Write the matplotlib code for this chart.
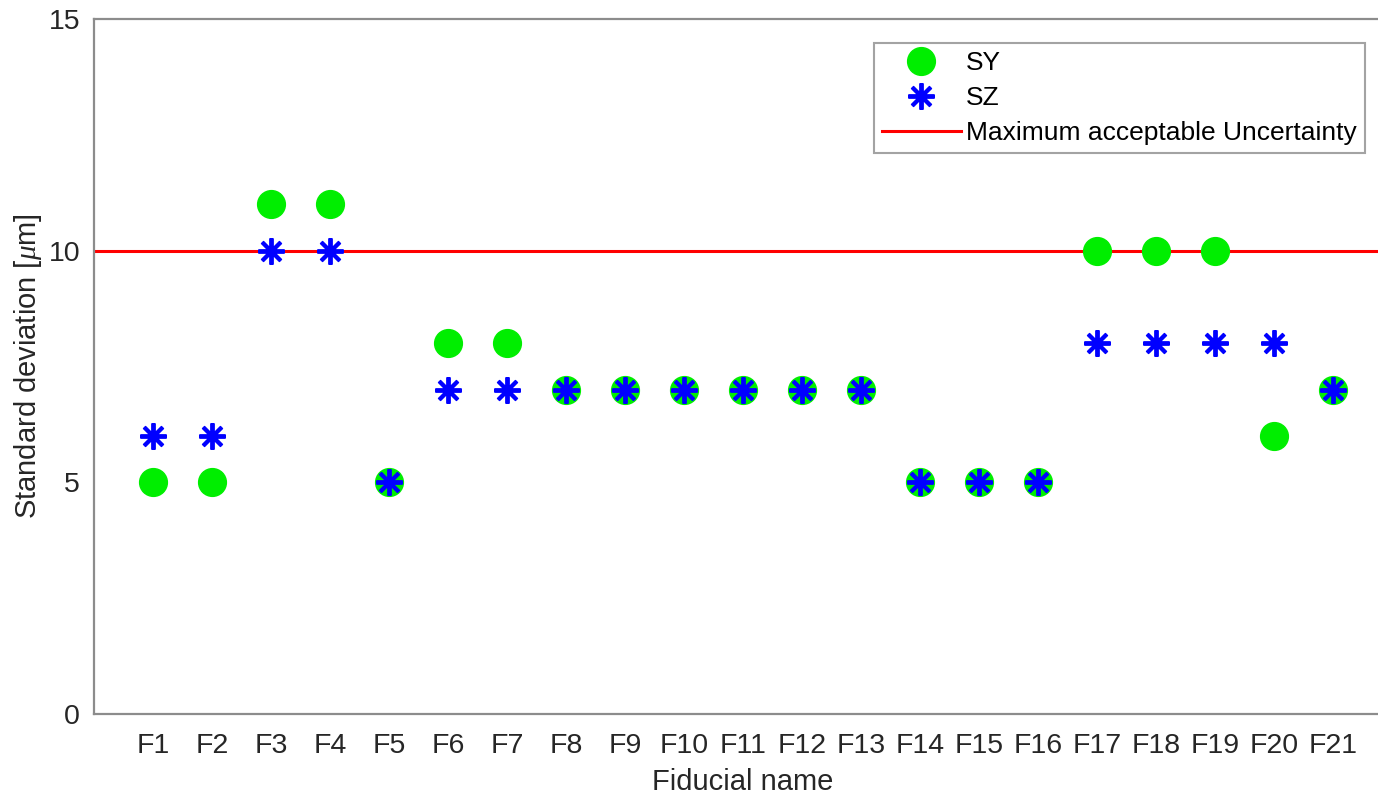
import matplotlib
matplotlib.use("Agg")
import matplotlib.pyplot as plt
from matplotlib.lines import Line2D

plt.rcParams['font.family'] = ['Liberation Sans', 'DejaVu Sans']
plt.rcParams['mathtext.fontset'] = 'custom'
plt.rcParams['mathtext.it'] = 'Liberation Serif:italic'

fiducials = ["F%d" % i for i in range(1, 22)]
sy = [5, 5, 11, 11, 5, 8, 8, 7, 7, 7, 7, 7, 7, 5, 5, 5, 10, 10, 10, 6, 7]
sz = [6, 6, 10, 10, 5, 7, 7, 7, 7, 7, 7, 7, 7, 5, 5, 5, 8, 8, 8, 8, 7]
max_uncertainty = 10
yticks = [0, 5, 10, 15]

W, H = 1378, 795
fig = plt.figure(figsize=(W / 100, H / 100), dpi=100)
left, right, top, bottom = 94, 1392, 19, 714
ax = fig.add_axes([left / W, 1 - bottom / H, (right - left) / W, (bottom - top) / H])

x = list(range(1, len(fiducials) + 1))
ax.plot(x, sy, linestyle='none', marker='o', markersize=20, color='#00ee00',
        markeredgecolor='#00ee00', label='SY', zorder=3)
ax.plot(x, sz, linestyle='none', marker=(8, 2, 0), markersize=19, color='#0000ff',
        markeredgecolor='#0000ff', markeredgewidth=2.8, label='SZ', zorder=4)
ax.axhline(max_uncertainty, color='#ff0000', linewidth=2.2, zorder=2,
           label='Maximum acceptable Uncertainty')

ax.set_xlim(0, len(fiducials) + 1)
ax.set_ylim(0, 15)
ax.set_xticks(x)
ax.set_xticklabels(fiducials)
ax.set_yticks(yticks)
ax.tick_params(length=0, labelsize=20.5, colors='#262626')
ax.tick_params(axis='y', pad=10)
ax.tick_params(axis='x', pad=14)
ax.spines['right'].set_visible(False)
for s in ['left', 'top', 'bottom']:
    ax.spines[s].set_color('#8c8c8c')
    ax.spines[s].set_linewidth(1.6)

ax.set_xlabel('Fiducial name', fontsize=21, color='#262626', labelpad=6)
ax.set_ylabel(r'Standard deviation [$\mu$m]', fontsize=21, color='#262626', labelpad=3)

handles = [
    Line2D([], [], linestyle='none', marker='o', markersize=20, color='#00ee00'),
    Line2D([], [], linestyle='none', marker=(8, 2, 0), markersize=19, color='#0000ff',
           markeredgewidth=2.8),
    Line2D([], [], color='#ff0000', linewidth=2.2),
]
labels = ['SY', 'SZ', 'Maximum acceptable Uncertainty']
leg = fig.legend(handles, labels, loc='upper right', bbox_to_anchor=(1365 / W, 1 - 43 / H),
                 fontsize=19, frameon=True, fancybox=False, handlelength=3.0,
                 labelspacing=0.42, handletextpad=0.2, borderpad=0.3, borderaxespad=0)
leg.get_frame().set_edgecolor('#8c8c8c')
leg.get_frame().set_linewidth(1.5)

fig.savefig('out.png', dpi=100)
